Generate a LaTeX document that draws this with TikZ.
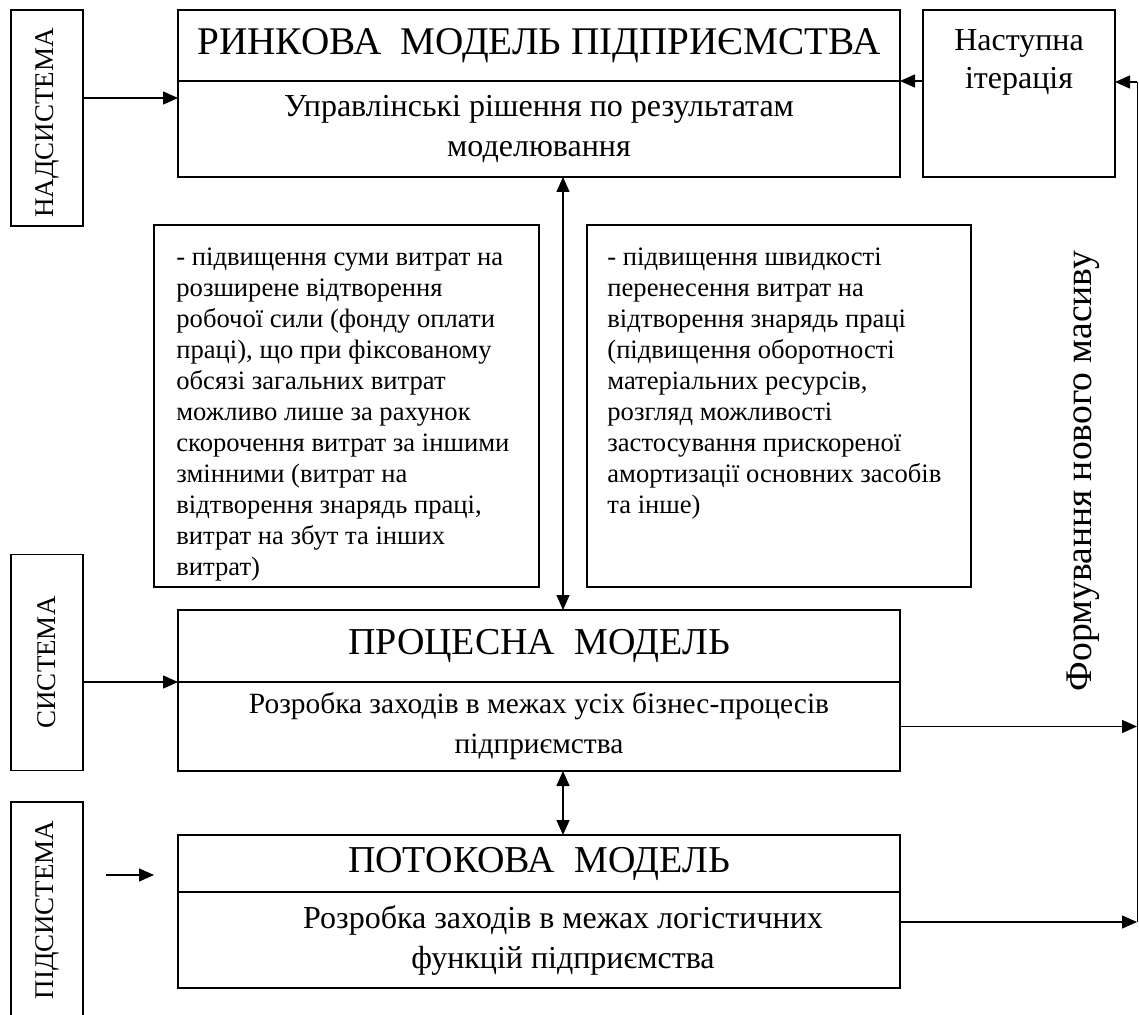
\documentclass[tikz,border=0pt]{standalone}
\usepackage{fontspec}
\setmainfont{Liberation Serif}
\usetikzlibrary{arrows.meta,positioning}

\tikzset{
  box/.style={draw, line width=0.8pt, inner sep=0pt, outer sep=0pt, minimum width=361pt},
  side/.style={draw, line width=0.8pt, inner sep=0pt, outer sep=0pt, minimum width=36pt, minimum height=108pt,
    font=\fontsize{13.5}{16}\selectfont},
  arr/.style={-{Triangle[length=7.5pt,width=6.5pt]}, line width=0.7pt},
  dbl/.style={{Triangle[length=7.5pt,width=6.5pt]}-{Triangle[length=7.5pt,width=6.5pt]}, line width=0.7pt},
  ttl/.style={font=\fontsize{19}{22}\selectfont},
  sub/.style={font=\fontsize{16}{20}\selectfont, align=center},
  txt/.style={font=\fontsize{13.3}{15.5}\selectfont, align=left, inner sep=0pt},
}

\begin{document}
\begin{tikzpicture}[x=0.5pt,y=-0.5pt]
    \useasboundingbox (0,0) rectangle (1139,1015);
    % levels on the left
    \node(nad)[side] at (47,118) {\rotatebox{90}{НАДСИСТЕМА\hspace*{5pt}}};
    \node(sys)[side] at (47,662.5) {\rotatebox{90}{СИСТЕМА}};
    \node(pid)[side] at (47,910) {\rotatebox{90}{ПІДСИСТЕМА}};
    % models
    \node(rin)[box, ttl, font=\fontsize{19.6}{22}\selectfont, minimum height=35.5pt] at (539,45.5) {РИНКОВА\ \ МОДЕЛЬ ПІДПРИЄМСТВА};
    \node(rinsub)[box, sub, minimum height=48pt, below=0pt of rin] {Управлінські рішення по результатам\\моделювання};
    \node(pro)[box, ttl, minimum height=36pt] at (539,646) {ПРОЦЕСНА\ \ МОДЕЛЬ};
    \node(prosub)[box, sub, font=\fontsize{14.7}{20}\selectfont, minimum height=44.5pt, below=0pt of pro] {Розробка заходів в межах усіх бізнес-процесів\\підприємства};
    \node(pot)[box, ttl, minimum height=28.5pt] at (539,863.5) {ПОТОКОВА\ \ МОДЕЛЬ};
    \node(potsub)[box, minimum height=48pt, below=0pt of pot] {};
    \node(potsubtxt)[sub, xshift=12pt] at (potsub) {Розробка заходів в межах логістичних\\функцій підприємства};
    \node(nast)[box, minimum width=96pt, minimum height=83.5pt] at (1019,93.5) {};
    \node(nasttxt)[sub, font=\fontsize{16}{19}\selectfont, inner sep=0pt, below=9.5pt of nast.north] {Наступна\\ітерація};
    % measures
    \node(ltxt)[box, minimum width=192.5pt, minimum height=181pt] at (346.5,406) {};
    \node(rtxt)[box, minimum width=192pt, minimum height=181pt] at (779,406) {};
    \node(lmeas)[txt, below right=11pt and 11pt of ltxt.north west] {- підвищення суми витрат на\\розширене відтворення\\робочої сили (фонду оплати\\праці), що при фіксованому\\обсязі загальних витрат\\можливо лише за рахунок\\скорочення витрат за іншими\\змінними (витрат на\\відтворення знарядь праці,\\витрат на збут та інших\\витрат)};
    \node(rmeas)[txt, below right=11pt and 10pt of rtxt.north west] {- підвищення швидкості\\перенесення витрат на\\відтворення знарядь праці\\(підвищення оборотності\\матеріальних ресурсів,\\розгляд можливості\\застосування прискореної\\амортизації основних засобів\\та інше)};
    \node(form)[font=\fontsize{18.8}{22}\selectfont, rotate=90] at (1083,471) {Формування нового масиву};
    % connectors
    \coordinate(pin) at (106,875);
    \coordinate(pout) at (154,875);
    \coordinate(fbtop) at (1137,82);
    \coordinate(fbbot) at (1137,922);
    \draw[arr]([yshift=10pt]nad.east) -- ([yshift=15.5pt]rinsub.west);
    \draw[arr](sys.east |- prosub.north west) -- (prosub.north west);
    \draw[arr](pin) -- (pout);
    \draw[arr](nast.west |- rinsub.north east) -- (rinsub.north east);
    \draw[arr](fbtop) -- (nast.east |- fbtop);
    \draw[line width=0.5pt](fbtop) -- (fbbot);
    \draw[arr](prosub.east) -- (prosub.east -| fbbot);
    \draw[arr]([yshift=9pt]potsub.east) -- (fbbot);
    \draw[dbl]([xshift=12pt]rinsub.south) -- ([xshift=12pt]pro.north);
    \draw[dbl]([xshift=12pt]prosub.south) -- ([xshift=12pt]pot.north);
\end{tikzpicture}
\end{document}
